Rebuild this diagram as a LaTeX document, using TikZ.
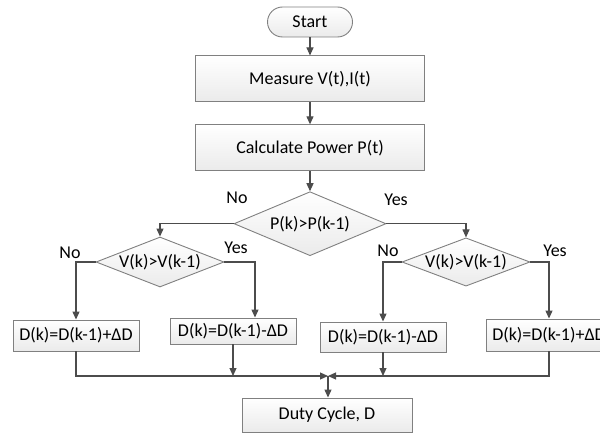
\documentclass[tikz,border=0pt]{standalone}
\usepackage{fontspec}
\setmainfont{Carlito}
\usetikzlibrary{arrows.meta, positioning, shapes.geometric}

\begin{document}
\begin{tikzpicture}[
    x=1pt, y=-1pt,
    >={Triangle[length=8pt, width=7pt]},
    font=\fontsize{18}{21}\selectfont,
    blk/.style={draw=black!50, line width=0.9pt, top color=white,
                bottom color=black!8, inner sep=0pt},
    term/.style={blk, rounded corners=15pt, minimum width=85pt,
                 minimum height=30pt},
    proc/.style={blk, minimum width=229pt, minimum height=46pt},
    upd/.style={blk, minimum width=126pt, minimum height=31pt},
    dec/.style={blk, diamond, aspect=2.5, minimum width=128pt,
                minimum height=50pt},
    flow/.style={->, draw=black!70, line width=1.1pt},
    ans/.style={inner sep=0pt}
  ]
  \clip (0,0) rectangle (600,433);

  % main column
  \node[term] (start) at (310,22) {Start};
  \node[proc, below=18pt of start] (meas) {Measure V(t),I(t)};
  \node[proc, below=22pt of meas] (calc) {Calculate Power P(t)};
  \node[dec, minimum width=152pt, minimum height=64pt, below=20pt of calc]
    (pk) {P(k)>P(k-1)};

  % second decisions
  \node[dec] (vl) at (160,262) {V(k)>V(k-1)};
  \node[dec, minimum height=46pt] (vr) at (466,262) {V(k)>V(k-1)};

  % duty cycle updates
  \node[upd] (d1) at (76,335.5) {D(k)=D(k-1)+ΔD};
  \node[upd, minimum height=26pt] (d2) at (233,331) {D(k)=D(k-1)-ΔD};
  \node[upd, minimum height=30pt] (d3) at (383,337) {D(k)=D(k-1)-ΔD};
  \node[upd, minimum height=32pt] (d4) at (549,335) {D(k)=D(k-1)+ΔD};
  \node[blk, minimum width=170pt, minimum height=34pt] (duty) at (327,415)
    {Duty Cycle, D};
  \coordinate (join) at (328,376);

  \draw[flow] (start) -- (meas);
  \draw[flow] (meas) -- (calc);
  \draw[flow] (calc) -- (pk);
  \draw[flow] (pk.west) -| (vl.north);
  \draw[flow] (pk.east) -| (vr.north);
  \draw[flow] (vl.west) -| (d1.north);
  \draw[flow] (vl.east) -| ([xshift=22pt]d2.north);
  \draw[flow] (vr.west) -| (d3.north);
  \draw[flow] (vr.east) -| (d4.north);

  % merge into duty cycle
  \draw[flow] (d1.south) |- (join);
  \draw[flow] (d4.south) |- (join);
  \draw[flow] (d2.south) -- (d2.south |- join);
  \draw[flow] (d3.south) -- (d3.south |- join);
  \draw[flow] (join) -- (join |- duty.north);

  % branch labels
  \node[ans] (pno) at (237,198) {No};
  \node[ans] (pyes) at (396,200) {Yes};
  \node[ans] (lno) at (70,253) {No};
  \node[ans] (lyes) at (236,248) {Yes};
  \node[ans] (rno) at (388,251) {No};
  \node[ans] (ryes) at (555,251) {Yes};
\end{tikzpicture}
\end{document}
